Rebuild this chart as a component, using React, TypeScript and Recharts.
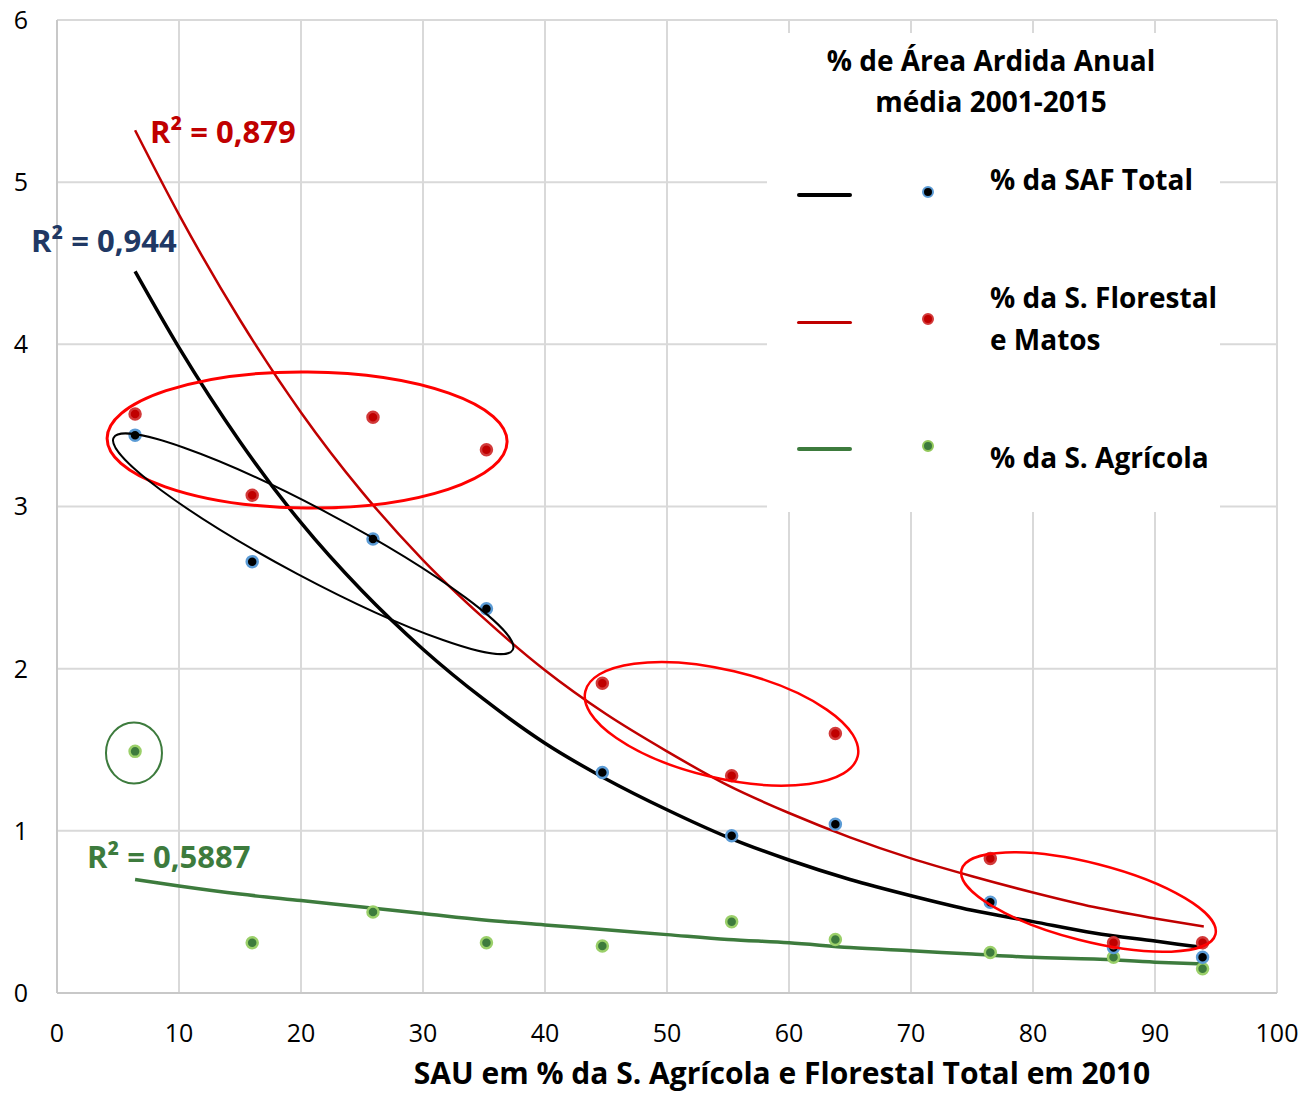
import { ComposedChart, Scatter, Line, XAxis, YAxis, CartesianGrid, ReferenceDot } from 'recharts';

// SAU in % of total agricultural + forest area, 2010
const sauShare = [6.4, 16, 25.9, 35.2, 44.7, 55.3, 63.8, 76.5, 86.6, 93.9];

// % of yearly burnt area, mean 2001-2015
const safTotal = [3.44, 2.66, 2.8, 2.37, 1.36, 0.97, 1.04, 0.56, 0.28, 0.22];
const florestalMatos = [3.57, 3.07, 3.55, 3.35, 1.91, 1.34, 1.6, 0.83, 0.31, 0.31];
const agricola = [1.49, 0.31, 0.5, 0.31, 0.29, 0.44, 0.33, 0.25, 0.22, 0.15];

// exponential trendlines
const trendX = [6.4, 10, 15, 20, 25, 30, 35, 40, 45, 50, 55, 60, 65, 70, 75, 80, 85, 90, 94];
const trendSaf = [4.45, 3.98, 3.4, 2.9, 2.48, 2.12, 1.81, 1.54, 1.32, 1.13, 0.96, 0.82, 0.7, 0.6, 0.51, 0.44, 0.37, 0.32, 0.28];
const trendFlorestal = [5.32, 4.8, 4.15, 3.58, 3.09, 2.67, 2.31, 1.99, 1.72, 1.49, 1.28, 1.11, 0.96, 0.83, 0.72, 0.62, 0.53, 0.46, 0.41];
const trendAgricola = [0.7, 0.66, 0.61, 0.57, 0.53, 0.49, 0.45, 0.42, 0.39, 0.36, 0.33, 0.31, 0.28, 0.26, 0.24, 0.22, 0.21, 0.19, 0.18];

const xTicks = [0, 10, 20, 30, 40, 50, 60, 70, 80, 90, 100];
const yTicks = [0, 1, 2, 3, 4, 5, 6];

const FONT = '"Open Sans", sans-serif';

const toPoints = (xs: number[], ys: number[]) => xs.map((x, i) => ({ x, y: ys[i] }));

const safData = toPoints(sauShare, safTotal);
const florData = toPoints(sauShare, florestalMatos);
const agrData = toPoints(sauShare, agricola);

const makeDot = (fill: string, stroke: string) => (props: any) => (
  <circle cx={props.cx} cy={props.cy} r={5.5} fill={fill} stroke={stroke} strokeWidth={2.5} />
);

const ellipseShape = (rx: number, ry: number, angle: number, stroke: string, width: number) => (p: any) => (
  <ellipse
    cx={p.cx}
    cy={p.cy}
    rx={rx}
    ry={ry}
    transform={`rotate(${angle} ${p.cx} ${p.cy})`}
    fill="none"
    stroke={stroke}
    strokeWidth={width}
  />
);

// legend entries; y values are page pixel centres
const legendItems = [
  { line: '#000000', lw: 4, lineY: 195, dotFill: '#000', dotStroke: '#5b9bd5', dotY: 192, labels: [{ t: '% da SAF Total', y: 180 }] },
  { line: '#c00000', lw: 3, lineY: 322, dotFill: '#c00000', dotStroke: '#d23a3a', dotY: 319, labels: [{ t: '% da S. Florestal', y: 298 }, { t: 'e Matos', y: 340 }] },
  { line: '#3d7b3d', lw: 4, lineY: 449, dotFill: '#3d7b3d', dotStroke: '#92c85a', dotY: 446, labels: [{ t: '% da S. Agrícola', y: 458 }] },
];

const BOX_L = 767;
const BOX_T = 33;

const boldText = (text: string, left: number, capCenter: number, color: string, size = 28, extra: any = {}) => (
  <div
    style={{
      position: 'absolute',
      left,
      top: capCenter - 21,
      color,
      fontSize: size,
      fontWeight: 700,
      lineHeight: '40px',
      whiteSpace: 'nowrap',
      ...extra,
    }}
  >
    {text}
  </div>
);

export default function App() {
  return (
    <div style={{ position: 'absolute', left: 0, top: 0, width: 1301, height: 1093, background: '#fff', fontFamily: FONT }}>
      <ComposedChart width={1301} height={1093} margin={{ top: 20, right: 24, bottom: 0, left: 0 }}>
        <CartesianGrid stroke="#d9d9d9" strokeWidth={2} />
        <XAxis
          type="number"
          dataKey="x"
          domain={[0, 100]}
          ticks={xTicks}
          height={100}
          tickLine={false}
          axisLine={{ stroke: '#c8c8c8', strokeWidth: 2 }}
          tickMargin={25}
          tick={{ fill: '#000', fontSize: 25, fontFamily: FONT }}
          label={{
            value: 'SAU em % da S. Agrícola e Florestal Total em 2010',
            position: 'insideBottom',
            offset: 9,
            dx: 115,
            style: { fill: '#000', fontSize: 30, fontWeight: 700, fontFamily: FONT },
          }}
        />
        <YAxis
          type="number"
          dataKey="y"
          domain={[0, 6]}
          ticks={yTicks}
          width={57}
          tickLine={false}
          axisLine={{ stroke: '#c8c8c8', strokeWidth: 2 }}
          tickMargin={23}
          tick={{ fill: '#000', fontSize: 25, fontFamily: FONT }}
        />
        <Line data={toPoints(trendX, trendSaf)} dataKey="y" type="monotone" stroke="#000" strokeWidth={3.5} dot={false} isAnimationActive={false} />
        <Line data={toPoints(trendX, trendFlorestal)} dataKey="y" type="monotone" stroke="#c00000" strokeWidth={2.5} dot={false} isAnimationActive={false} />
        <Line data={toPoints(trendX, trendAgricola)} dataKey="y" type="monotone" stroke="#3d7b3d" strokeWidth={3.5} dot={false} isAnimationActive={false} />
        <Scatter data={agrData} dataKey="y" shape={makeDot('#3d7b3d', '#9bd06a')} isAnimationActive={false} />
        <Scatter data={safData} dataKey="y" shape={makeDot('#000', '#5b9bd5')} isAnimationActive={false} />
        <Scatter data={florData} dataKey="y" shape={makeDot('#c00000', '#d23a3a')} isAnimationActive={false} />
        <ReferenceDot x={20.5} y={3.41} r={0} ifOverflow="visible" shape={ellipseShape(200, 68, 0.5, '#ff0000', 3)} />
        <ReferenceDot x={21.0} y={2.77} r={0} ifOverflow="visible" shape={ellipseShape(226, 34, 28, '#000', 2)} />
        <ReferenceDot x={54.47} y={1.66} r={0} ifOverflow="visible" shape={ellipseShape(140, 54, 13.4, '#ff0000', 2.5)} />
        <ReferenceDot x={84.55} y={0.561} r={0} ifOverflow="visible" shape={ellipseShape(131, 39, 14.3, '#ff0000', 2.5)} />
        <ReferenceDot x={6.31} y={1.48} r={0} ifOverflow="visible" shape={ellipseShape(28, 30.5, 0, '#3d7b3d', 2)} />
      </ComposedChart>

      {/* R² annotations */}
      {boldText('R² = 0,879', 150, 132, '#c00000', 31)}
      {boldText('R² = 0,944', 31, 241, '#203864', 31)}
      {boldText('R² = 0,5887', 87, 857, '#3d7b3d', 31)}

      {/* legend box */}
      <div style={{ position: 'absolute', left: BOX_L, top: BOX_T, width: 453, height: 479, background: '#fff' }}>
        {boldText('% de Área Ardida Anual', 0, 61 - BOX_T, '#000', 28, { width: 448, textAlign: 'center' })}
        {boldText('média 2001-2015', 0, 102 - BOX_T, '#000', 28, { width: 448, textAlign: 'center' })}
        {legendItems.map((it) => (
          <div key={it.labels[0].t}>
            <div
              style={{
                position: 'absolute',
                left: 797 - BOX_L,
                top: it.lineY - BOX_T - it.lw / 2,
                width: 55,
                height: it.lw,
                background: it.line,
                borderRadius: 2,
              }}
            />
            <div
              style={{
                position: 'absolute',
                left: 928 - BOX_L - 6.5,
                top: it.dotY - BOX_T - 6.5,
                width: 8,
                height: 8,
                borderRadius: '50%',
                background: it.dotFill,
                border: `2.5px solid ${it.dotStroke}`,
              }}
            />
            {it.labels.map((l) => (
              <div key={l.t}>{boldText(l.t, 990 - BOX_L, l.y - BOX_T, '#000', 28)}</div>
            ))}
          </div>
        ))}
      </div>
    </div>
  );
}
